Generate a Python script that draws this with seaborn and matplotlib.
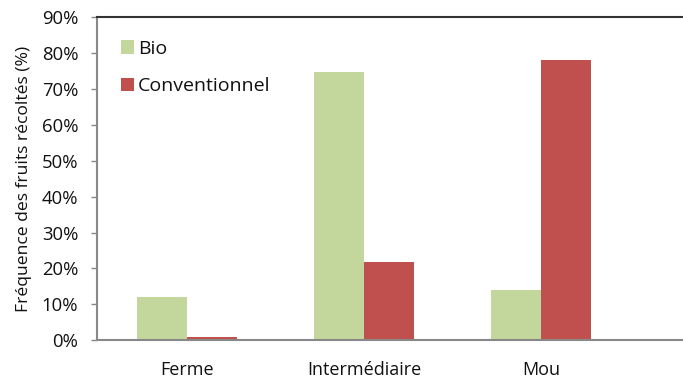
import matplotlib
matplotlib.use("Agg")
import matplotlib.pyplot as plt
import seaborn as sns
import pandas as pd
from matplotlib.ticker import PercentFormatter

categories = ["Ferme", "Intermédiaire", "Mou"]
bio = [12.0, 74.7, 13.9]
conventionnel = [0.8, 21.8, 78.2]
series_names = ["Bio", "Conventionnel"]
yticks = [0, 10, 20, 30, 40, 50, 60, 70, 80, 90]

df = pd.DataFrame({
    "cat": categories * 2,
    "val": bio + conventionnel,
    "serie": [series_names[0]] * 3 + [series_names[1]] * 3,
})

sns.set_theme(style="white")
plt.rcParams['font.family'] = ['Open Sans', 'DejaVu Sans']

fig = plt.figure(figsize=(6.83, 3.8), dpi=100)
ax = fig.add_axes([0.142, 0.105, 0.858, 0.849])

sns.barplot(data=df, x="cat", y="val", hue="serie",
            palette=["#C3D69B", "#C0504D"], width=0.565,
            saturation=1, ax=ax, legend=True, linewidth=0)

ax.set_xlim(-0.508, 2.802)
ax.set_ylim(0, 90)
ax.set_yticks(yticks)
ax.yaxis.set_major_formatter(PercentFormatter(decimals=0))
ax.tick_params(axis='y', which='both', left=True, length=4.5, width=1,
               color="#888888", labelsize=13.3, pad=9, labelcolor="#111111")
ax.tick_params(axis='x', bottom=False, labelsize=13, pad=9, labelcolor="#111111")
ax.set_xlabel("")
ax.set_ylabel("Fréquence des fruits récoltés (%)", fontsize=12.6, color="#111111", labelpad=7)

for s in ["left", "bottom"]:
    ax.spines[s].set_color("#888888")
    ax.spines[s].set_linewidth(1.5)
ax.spines["top"].set_color("#333333")
ax.spines["top"].set_linewidth(1.5)
ax.spines["right"].set_visible(False)

ax.legend(loc="upper left", bbox_to_anchor=(0.027, 0.955), frameon=False,
          fontsize=14, handlelength=0.7, handleheight=0.7, handletextpad=0.2,
          labelspacing=1.0, borderaxespad=0, labelcolor="#111111")

fig.savefig("out.png", dpi=100)
